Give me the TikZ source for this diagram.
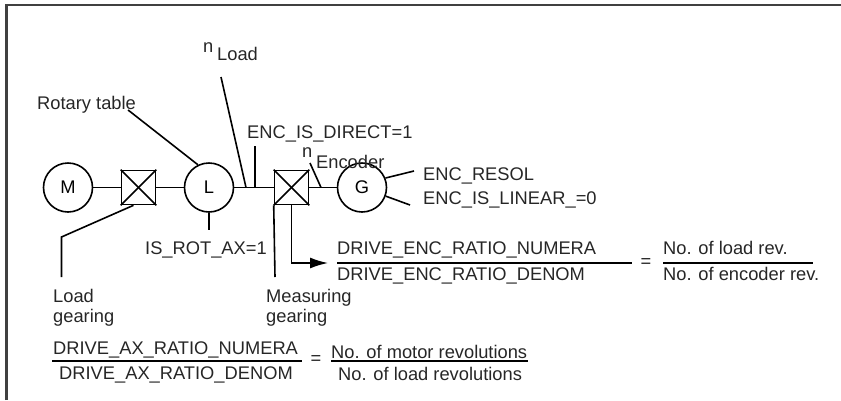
\documentclass[tikz,border=0pt]{standalone}
\usepackage{fontspec}
\setmainfont{Liberation Sans}
\usetikzlibrary{arrows.meta}
\tikzset{
  machine/.style={draw,circle,line width=1.6pt,minimum size=49pt,inner sep=0pt},
  gearbox/.style={draw,rectangle,line width=1.6pt,minimum width=34pt,minimum height=34pt,inner sep=0pt},
  lab/.style={anchor=base west,inner sep=0pt,text=black!85},
  lead/.style={line width=1.6pt},
  fracbar/.style={line width=1.6pt}
}
\begin{document}
\begin{tikzpicture}[x=1pt,y=-1pt,font=\fontsize{18.3}{20.5}\selectfont]  % ------ drive and encoder --------------
    \useasboundingbox (0,0) rectangle (841,400);
    \draw [line width=2.4pt,black!75] (6.5,400) -- (6.5,5) -- (841,5);

    \node [machine] (M) at (68,187.5) {M};
    \node [gearbox] (GearL) at (138.5,187.5) {};
    \node [machine] (L) at (209,187.5) {L};
    \node [gearbox] (GearE) at (291.5,187.5) {};
    \node [machine] (G) at (362,187.5) {G};

    \foreach \b in {GearL,GearE} {
      \draw [lead] (\b.north west) -- (\b.south east);
      \draw [lead] (\b.north east) -- (\b.south west);
    }
    \draw [lead] (M) -- (GearL);
    \draw [lead] (GearL) -- (L);
    \draw [lead] (L) -- (GearE);
    \draw [lead] (GearE) -- (G);

    % labels
    \node [lab] (nL) at (203,52) {n};
    \node [lab] (nLoad) at (217,60) {Load};
    \node [lab] (RotTab) at (37,109) {Rotary table};
    \node [lab] (Direct) at (247,138) {ENC\_IS\_DIRECT=1};
    \node [lab] (nE) at (302,157) {n};
    \node [lab] (nEnc) at (316,168) {Encoder};
    \node [lab] (Resol) at (423,180) {ENC\_RESOL};
    \node [lab] (Linear) at (423,204) {ENC\_IS\_LINEAR\_=0};
    \node [lab] (RotAx) at (145,254) {IS\_ROT\_AX=1};
    \node [lab,anchor=north west,align=left] (LoadG) at (53,289) {Load\\gearing};
    \node [lab,anchor=north west,align=left] (MeasG) at (266,289) {Measuring\\gearing};

    % free ends
    \coordinate (ShaftA) at (246,187.5);
    \coordinate (ShaftB) at (255,187.5);
    \coordinate (ShaftC) at (321,187.5);
    \coordinate (TopL) at (221,77);
    \coordinate (TopD) at (255,146);
    \coordinate (TopE) at (310,163);
    \coordinate (KneeL) at (61.5,237);
    \coordinate (EndR) at (209,230);
    \coordinate (EndL) at (61.5,277);
    \coordinate (EndM) at (275,277);

    \draw [lead] ([xshift=-8pt,yshift=-1pt]RotTab.base east) -- (L.116);
    \draw [lead] (TopL) -- (ShaftA);
    \draw [lead] (TopD) -- (ShaftB);
    \draw [lead] (TopE) -- (ShaftC);
    \draw [lead] (G.22) -- ([yshift=9pt,xshift=-9pt]Resol.base west);
    \draw [lead] (G.-20) -- ([yshift=-1pt,xshift=-13pt]Linear.base west);
    \draw [lead] (L.south) -- (EndR);
    \draw [lead] ([xshift=-5pt]GearL.south) -- (KneeL) -- (EndL);
    \draw [lead] (GearE.south west) -- (EndM);

    % ratio, encoder side
    \node [lab] (NumE) at (337,254) {DRIVE\_ENC\_RATIO\_NUMERA};
    \node [lab] (DenE) at (337,280) {DRIVE\_ENC\_RATIO\_DENOM};
    \coordinate (BarEa) at (337,263);
    \coordinate (BarEb) at (632,263);
    \draw [fracbar] (BarEa) -- (BarEb);
    \node [inner sep=0pt,text=black!85] (EqE) at (646,263) {=};
    \node [lab] (NumR) at (663,254) {No. of load rev.};
    \node [lab] (DenR) at (663,280) {No. of encoder rev.};
    \coordinate (BarRa) at (663,263);
    \coordinate (BarRb) at (813,263);
    \draw [fracbar] (BarRa) -- (BarRb);
    \draw [lead,-{Latex[length=18pt,width=11pt]}] (GearE.south) -- (GearE.south |- BarEa) -- ([xshift=-9pt]BarEa);

    % ratio, motor side
    \node [lab] (NumA) at (53,354) {DRIVE\_AX\_RATIO\_NUMERA};
    \node [lab] (DenA) at (59,379) {DRIVE\_AX\_RATIO\_DENOM};
    \coordinate (BarAa) at (52,361);
    \coordinate (BarAb) at (302,361);
    \draw [fracbar] (BarAa) -- (BarAb);
    \node [inner sep=0pt,text=black!85] (EqA) at (316,360) {=};
    \node [lab] (NumM) at (331,358) {No. of motor revolutions};
    \node [lab] (DenM) at (338,380) {No. of load revolutions};
    \coordinate (BarMa) at (331,361);
    \coordinate (BarMb) at (528,361);
    \draw [fracbar] (BarMa) -- (BarMb);
\end{tikzpicture}
\end{document}
